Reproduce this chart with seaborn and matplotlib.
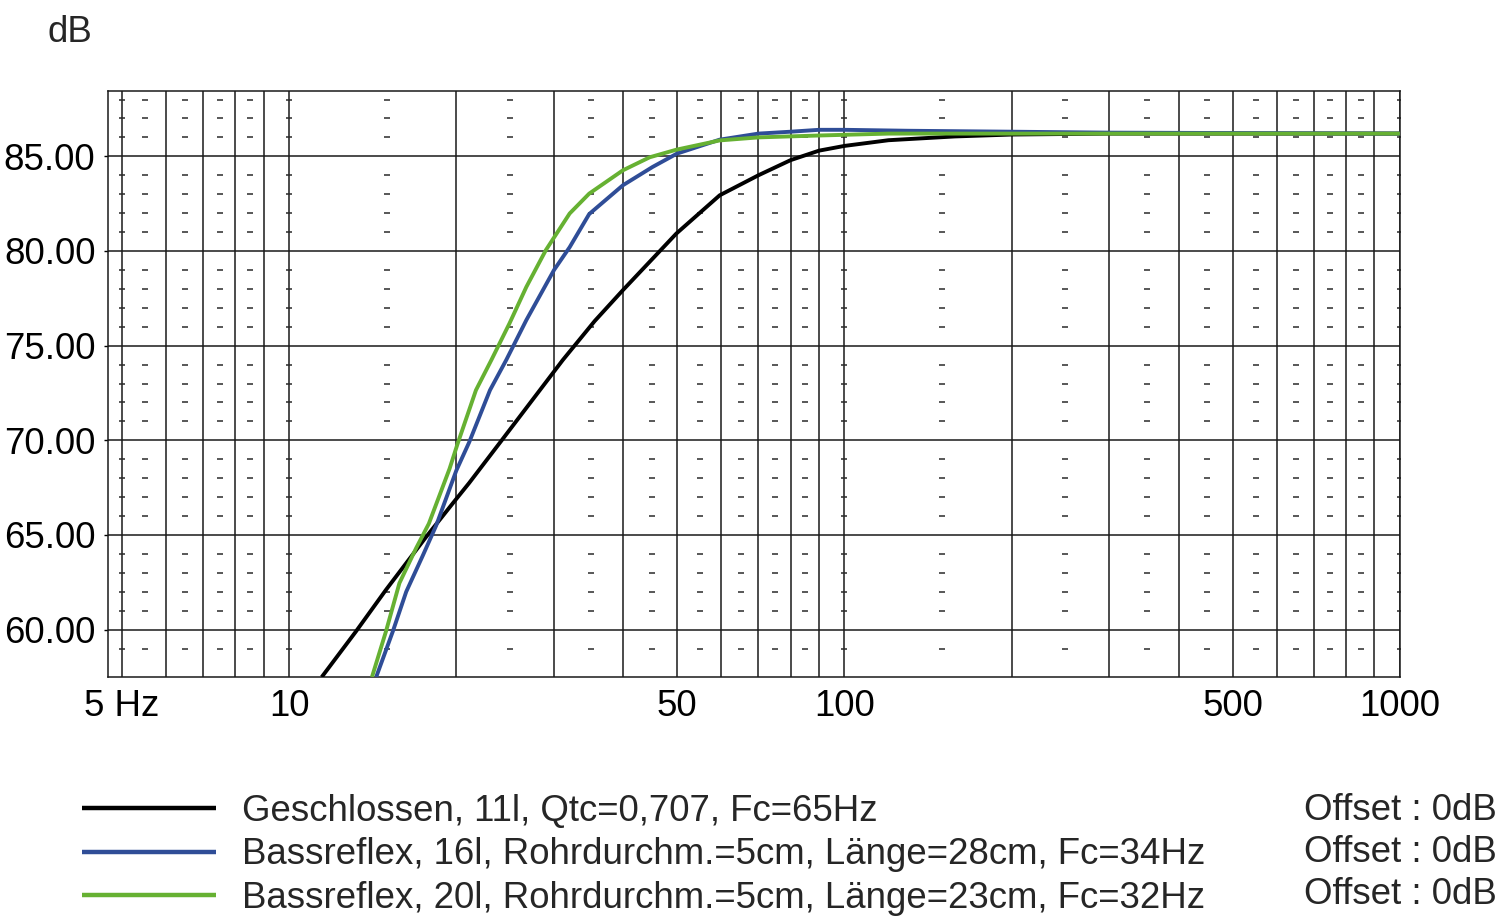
import numpy as np
import pandas as pd
import matplotlib
matplotlib.use("Agg")
import matplotlib.pyplot as plt
import matplotlib.ticker as mticker
import seaborn as sns

# ---------------- data ----------------
series_names = [
    "Geschlossen, 11l, Qtc=0,707, Fc=65Hz",
    "Bassreflex, 16l, Rohrdurchm.=5cm, Länge=28cm, Fc=34Hz",
    "Bassreflex, 20l, Rohrdurchm.=5cm, Länge=23cm, Fc=32Hz",
]
series_colors = ["#000000", "#2f4d97", "#66b132"]

closed_freq = [11.45, 13.19, 14.94, 16.93, 17.65, 19.72, 21.1, 24, 31.1, 35.5, 39.9,
               49.8, 59.6, 70, 80, 90, 100, 120, 158, 200, 300, 500, 1000]
closed_db = [57.5, 59.9, 62.1, 64.2, 64.9, 66.68, 67.75, 69.9, 74.24, 76.3, 77.93,
             80.92, 82.94, 84.0, 84.8, 85.3, 85.55, 85.85, 86.05, 86.15, 86.2, 86.2, 86.2]

br16_freq = [14.35, 15.37, 16.25, 17.4, 18.4, 20.0, 21.1, 23.0, 24.6, 26.74, 30, 32,
             34.7, 39.9, 45.14, 49.9, 59.6, 70, 80, 90, 100, 130, 200, 300, 1000]
br16_db = [57.5, 59.9, 62.0, 63.9, 65.5, 68.4, 69.9, 72.65, 74.24, 76.35, 79.0, 80.2,
           81.95, 83.47, 84.44, 85.14, 85.88, 86.2, 86.3, 86.4, 86.4, 86.35, 86.3, 86.25, 86.2]

br20_freq = [14.1, 14.94, 15.8, 16.93, 17.85, 19.45, 20.1, 21.7, 23.13, 24.94, 26.74,
             29.0, 32.0, 34.7, 39.9, 44.6, 49.8, 59.6, 70, 90, 120, 200, 1000]
br20_db = [57.5, 59.9, 62.46, 64.3, 65.6, 68.5, 69.8, 72.65, 74.24, 76.18, 78.1,
           80.05, 81.98, 83.03, 84.26, 84.95, 85.35, 85.84, 86.0, 86.1, 86.2, 86.2, 86.2]

offset_labels = ["Offset : 0dB", "Offset : 0dB", "Offset : 0dB"]

x_tick_values = [5, 10, 50, 100, 500, 1000]
x_tick_labels = ["5 Hz", "10", "50", "100", "500", "1000"]
y_tick_values = [60, 65, 70, 75, 80, 85]
y_tick_labels = ["60.00", "65.00", "70.00", "75.00", "80.00", "85.00"]

x_grid_major = [5, 6, 7, 8, 9, 10, 20, 30, 40, 50, 60, 70, 80, 90,
                100, 200, 300, 400, 500, 600, 700, 800, 900, 1000]
x_grid_dash = [5, 5.5, 6.5, 7.5, 8.5, 10, 15, 25, 35, 45, 55, 65, 75, 85,
               100, 150, 250, 350, 450, 550, 650, 750, 850, 1000]
y_grid_dash = [v for v in range(59, 89) if v % 5 != 0]

# ---------------- style ----------------
sns.set_theme(style="white")
plt.rcParams["font.family"] = ["Liberation Sans", "DejaVu Sans"]
FS = 26.4

fig = plt.figure(figsize=(15, 9.18), dpi=100)
ax = fig.add_axes([108 / 1500, 1 - 677 / 918, (1400 - 108) / 1500, (677 - 91) / 918])

frames = []
for name, f, d in zip(series_names,
                      [closed_freq, br16_freq, br20_freq],
                      [closed_db, br16_db, br20_db]):
    frames.append(pd.DataFrame({"freq": f, "db": d, "series": name}))
df = pd.concat(frames, ignore_index=True)

# grid (decoration)
for xv in x_grid_major:
    ax.axvline(xv, color="#1a1a1a", lw=1.1, zorder=1)
for yv in y_tick_values:
    ax.axhline(yv, color="#1a1a1a", lw=1.1, zorder=1)
gx, gy = np.meshgrid(x_grid_dash, y_grid_dash)
ax.scatter(gx.ravel(), gy.ravel(), marker="_", s=14, linewidths=1.1,
           color="#2a2a2a", zorder=1)

sns.lineplot(data=df, x="freq", y="db", hue="series", hue_order=series_names,
             palette=series_colors, sort=False, estimator=None, lw=2.8,
             legend=False, ax=ax, zorder=3)
for ln in ax.lines[-3:]:
    ln.set_solid_joinstyle("round")
    ln.set_solid_capstyle("butt")

ax.set_xscale("log")
ax.set_xlim(4.72, 1000.5)
ax.set_ylim(57.5, 88.45)
ax.xaxis.set_major_locator(mticker.FixedLocator(x_tick_values))
ax.xaxis.set_major_formatter(mticker.FixedFormatter(x_tick_labels))
ax.xaxis.set_minor_locator(mticker.NullLocator())
ax.set_yticks(y_tick_values)
ax.set_yticklabels(y_tick_labels)
ax.tick_params(axis="x", length=0, pad=9, labelsize=FS, colors="black")
ax.tick_params(axis="y", length=3, width=1, pad=6, labelsize=FS, colors="black",
               direction="out", left=True)
ax.set_xlabel("")
ax.set_ylabel("")
for s in ax.spines.values():
    s.set_visible(True)
    s.set_color("#1a1a1a")
    s.set_linewidth(1.1)

fig.text(70 / 1500, 1 - 32 / 918, "dB", fontsize=FS, ha="center", va="center")

# legend
handles = ax.lines[-3:]
leg = ax.legend(handles, series_names, loc="upper left",
                bbox_to_anchor=(82 / 1500, 1 - 794 / 918),
                bbox_transform=fig.transFigure, frameon=False, fontsize=FS,
                handlelength=3.65, handletextpad=0.72, labelspacing=0.23,
                borderpad=0, borderaxespad=0)
for lh, c in zip(leg.get_lines(), series_colors):
    lh.set_color(c)
    lh.set_linewidth(3.2)

row_y = [811, 853, 894]
for ry, txt in zip(row_y, offset_labels):
    fig.text(1497 / 1500, 1 - ry / 918, txt, fontsize=FS, ha="right", va="center")

fig.savefig("out.png", dpi=100)
